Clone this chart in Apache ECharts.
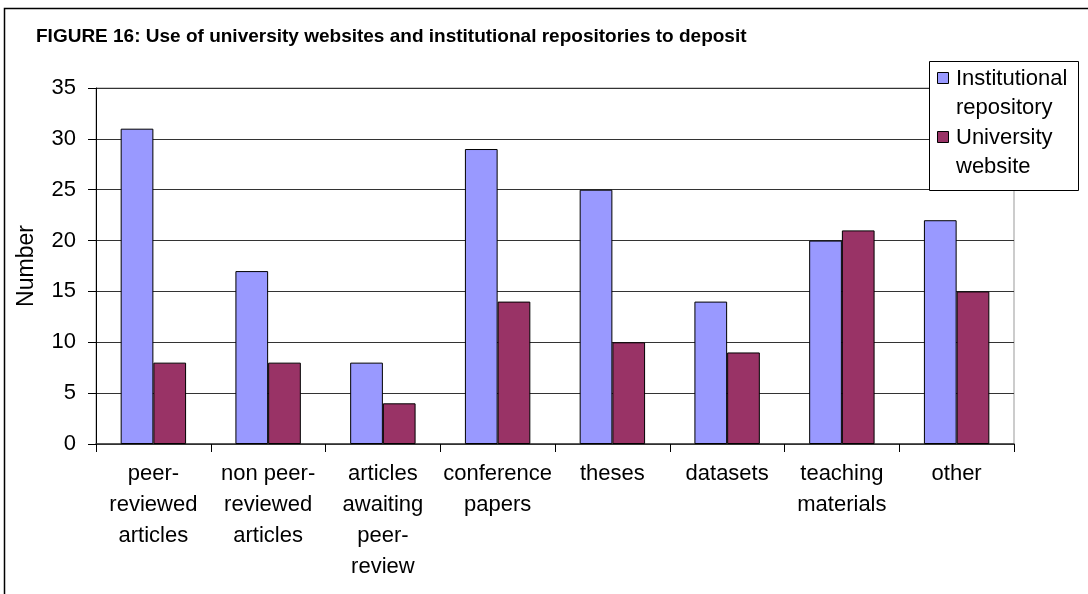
<!DOCTYPE html>
<html>
<head>
<meta charset="utf-8">
<script src="https://cdn.jsdelivr.net/npm/echarts@6/dist/echarts.min.js"></script>
<style>
  html, body { margin: 0; padding: 0; background: #fff; }
  #chart { width: 1088px; height: 594px; }
</style>
</head>
<body>
<div id="chart"></div>
<script>
// Deposit locations by type of output
const categories = [
  'peer-\nreviewed\narticles',
  'non peer-\nreviewed\narticles',
  'articles\nawaiting\npeer-\nreview',
  'conference\npapers',
  'theses',
  'datasets',
  'teaching\nmaterials',
  'other'
];
const institutionalRepository = [31, 17, 8, 29, 25, 14, 20, 22];
const universityWebsite = [8, 8, 4, 14, 10, 9, 21, 15];
const seriesNames = ['Institutional repository', 'University website'];
const legendLines = [['Institutional', 'repository'], ['University', 'website']];
const colors = ['#9999FF', '#993366'];

const FONT = '"Liberation Sans", Arial, sans-serif';

const chart = echarts.init(document.getElementById('chart'));

// Legend drawn as a boxed key at the upper right
const legendGraphics = [
  {
    type: 'rect',
    shape: { x: 929.5, y: 61.5, width: 149, height: 129 },
    style: { fill: '#fff', stroke: '#000', lineWidth: 1 },
    z: 10
  }
];
legendLines.forEach((lines, i) => {
  const top = 72 + i * 59;
  legendGraphics.push({
    type: 'rect',
    shape: { x: 937.5, y: top + 0.5, width: 11, height: 11 },
    style: { fill: colors[i], stroke: '#000', lineWidth: 1 },
    z: 11
  });
  legendGraphics.push({
    type: 'text',
    left: 956,
    top: top - 8,
    style: {
      text: lines.join('\n'),
      font: '22px ' + FONT,
      lineHeight: 29.5,
      fill: '#000'
    },
    z: 11
  });
});

chart.setOption({
  animation: false,
  backgroundColor: '#fff',
  textStyle: { fontFamily: FONT },
  title: {
    text: 'FIGURE 16: Use of university websites and institutional repositories to deposit',
    left: 31,
    top: 22,
    textStyle: { fontFamily: FONT, fontSize: 19, fontWeight: 'bold', color: '#000' }
  },
  grid: {
    left: 96,
    right: 74,
    top: 88,
    bottom: 150,
    show: true,
    borderColor: '#999',
    borderWidth: 1
  },
  xAxis: {
    type: 'category',
    data: categories,
    axisLine: { lineStyle: { color: '#333', width: 1.5 } },
    axisTick: { show: true, length: 8, lineStyle: { color: '#000' } },
    axisLabel: {
      interval: 0,
      color: '#000',
      fontSize: 22,
      lineHeight: 31,
      margin: 14
    }
  },
  yAxis: {
    type: 'value',
    min: 0,
    max: 35,
    interval: 5,
    name: 'Number',
    nameLocation: 'middle',
    nameGap: 58,
    nameTextStyle: { color: '#000', fontSize: 23 },
    axisLine: { show: true, lineStyle: { color: '#000' } },
    axisTick: { show: true, length: 8, lineStyle: { color: '#000' } },
    axisLabel: { color: '#000', fontSize: 22, margin: 20 },
    splitLine: { lineStyle: { color: '#333', width: 1 } }
  },
  series: [
    {
      name: seriesNames[0],
      type: 'bar',
      data: institutionalRepository,
      barGap: '0%',
      barCategoryGap: '43%',
      itemStyle: { color: colors[0], borderColor: '#000', borderWidth: 1 }
    },
    {
      name: seriesNames[1],
      type: 'bar',
      data: universityWebsite,
      barGap: '0%',
      barCategoryGap: '43%',
      itemStyle: { color: colors[1], borderColor: '#000', borderWidth: 1 }
    }
  ],
  graphic: [
    {
      type: 'rect',
      shape: { x: 4.5, y: 8.5, width: 1200, height: 700 },
      style: { fill: 'none', stroke: '#000', lineWidth: 1.5 },
      silent: true,
      z: 1
    }
  ].concat(legendGraphics)
});
</script>
</body>
</html>
